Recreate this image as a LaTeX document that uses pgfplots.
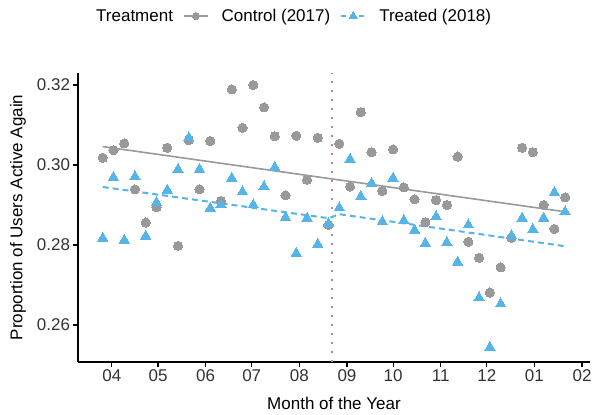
\documentclass[border=0pt]{standalone}
\usepackage{fontspec}
\setmainfont{Liberation Sans}
\usepackage{pgfplots}
\usepackage{pgfplotstable}
\pgfplotsset{compat=1.18}
\definecolor{cgray}{HTML}{999999}
\definecolor{cblue}{HTML}{56B4E9}
\definecolor{cpink}{HTML}{CC79A7}
\definecolor{ctick}{HTML}{333333}

\pgfplotstableread{
day ctrl treat
-6 0.3018 0.2817
1 0.3037 0.2969
8 0.3054 0.2812
15 0.2939 0.2971
22 0.2856 0.2822
29 0.2894 0.2906
36 0.3043 0.2937
43 0.2798 0.2989
50 0.3062 0.3068
57 0.2939 0.2989
64 0.3060 0.2892
71 0.2910 0.2900
78 0.3189 0.2967
85 0.3093 0.2933
92 0.3200 0.2900
99 0.3144 0.2946
106 0.3072 0.2994
113 0.2924 0.2869
120 0.3073 0.2779
127 0.2963 0.2867
134 0.3068 0.2802
141 0.2850 0.2853
148 0.3053 0.2893
155 0.2946 0.3014
162 0.3132 0.2921
169 0.3032 0.2954
176 0.2935 0.2858
183 0.3039 0.2967
190 0.2944 0.2861
197 0.2914 0.2837
204 0.2857 0.2804
211 0.2912 0.2871
218 0.2900 0.2806
225 0.3021 0.2757
232 0.2808 0.2850
239 0.2768 0.2668
246 0.2681 0.2544
253 0.2744 0.2653
260 0.2818 0.2823
267 0.3043 0.2867
274 0.3032 0.2839
281 0.2900 0.2867
288 0.2840 0.2931
295 0.2919 0.2883
}\datatable

\newcommand{\myfont}{\fontsize{17bp}{20bp}\selectfont}

\begin{document}
\begin{tikzpicture}
\useasboundingbox (0,0) rectangle (592bp,415bp);
\begin{axis}[
  at={(78bp,53bp)}, anchor=south west,
  scale only axis, width=512bp, height=289bp,
  xmin=-22.1, xmax=311.2, ymin=0.25075, ymax=0.323,
  axis x line*=bottom, axis y line*=left,
  axis line style={black, line width=1.1bp},
  tick align=outside, major tick length=4.5bp,
  tick style={black, line width=1.1bp},
  xtick={0,30,61,91,122,153,183,214,244,275,306},
  xticklabels={04,05,06,07,08,09,10,11,12,01,02},
  ytick={0.26,0.28,0.30,0.32},
  yticklabels={0.26,0.28,0.30,0.32},
  ticklabel style={font=\myfont, text=ctick},
  xlabel={Month of the Year},
  ylabel={Proportion of Users Active Again},
  label style={font=\myfont},
  xlabel style={at={(axis description cs:0.5,-0.142)}, anchor=center},
  ylabel style={at={(axis description cs:-0.117,0.5)}, anchor=center},
  legend columns=-1,
  legend style={at={(axis description cs:0.0039,1.2284)}, anchor=north west,
    draw=none, fill=none, font=\myfont, nodes={inner sep=0pt},
    /tikz/every odd column/.append style={column sep=13bp},
    /tikz/every even column/.append style={column sep=10bp}},
  legend image code/.code={\draw[mark repeat=2,mark phase=2,#1] plot coordinates {(0bp,0bp) (12bp,0bp) (24bp,0bp)};},
]
\addlegendimage{empty legend}
\addlegendentry{Treatment}
\addlegendimage{cgray, line width=1.6bp, mark=*, mark size=3.5bp, mark options={solid, fill=cgray, line width=0pt}}
\addlegendentry{Control (2017)}
\addlegendimage{cblue, line width=2bp, dash pattern=on 5bp off 4bp, mark=triangle*, mark size=4.8bp, mark options={solid, fill=cblue, line width=0pt}}
\addlegendentry{Treated (2018)}

\addplot[forget plot, cpink, line width=1.8bp, dash pattern=on 1.8bp off 7.2bp] coordinates {(143,0.25075) (143,0.323)};
\addplot[forget plot, only marks, mark=*, mark size=4.6bp, cgray, mark options={fill=cgray, line width=0pt}] table[x=day, y=ctrl] {\datatable};
\addplot[forget plot, only marks, mark=triangle*, mark size=6bp, cblue, mark options={fill=cblue, line width=0pt}] table[x=day, y=treat] {\datatable};
\addplot[forget plot, cgray, line width=1.6bp] coordinates {(-6,0.3046) (295,0.2883)};
\addplot[forget plot, cblue, line width=2bp, dash pattern=on 6bp off 4bp] coordinates {(-6,0.2945) (141,0.2867) (148,0.2877) (295,0.2797)};
\end{axis}
\end{tikzpicture}
\end{document}
